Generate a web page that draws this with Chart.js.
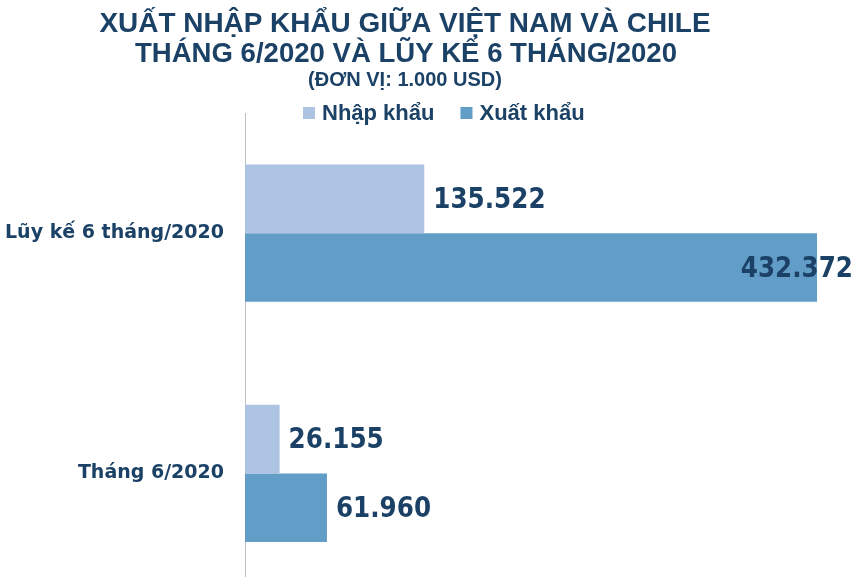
<!DOCTYPE html>
<html>
<head>
    <meta charset="utf-8">
    <script src="https://cdn.jsdelivr.net/npm/chart.js"></script>
    <style>
        html, body { margin: 0; padding: 0; background: #ffffff; overflow: hidden; height: 577px; }
        #wrap { width: 860px; height: 577px; overflow: hidden; }
        canvas { display: block; }
    </style>
</head>
<body>
    <div id="wrap">
        <canvas id="chart" width="860" height="626"></canvas>
    </div>
    <script>
        // du lieu doc tu hinh goc (don vi: 1.000 USD)
        const categories = ["Lũy kế 6 tháng/2020", "Tháng 6/2020"];
        const seriesNames = ["Nhập khẩu", "Xuất khẩu"];
        const nhapKhau = [135522, 26155];
        const xuatKhau = [432372, 61960];
        const titleLines = ["XUẤT NHẬP KHẨU GIỮA VIỆT NAM VÀ CHILE", "THÁNG 6/2020 VÀ LŨY KẾ 6 THÁNG/2020"];
        const unitLine = "(ĐƠN VỊ: 1.000 USD)";

        const TEXT = "#1b4266";
        const LIGHT = "#acc4e2";
        const DARK = "#629dc7";
        const X_MAX = 457300;

        function fmt(v) {
            return v.toLocaleString("de-DE");
        }

        // tieu de + chu giai ve tay cho dung vi tri
        const headerPlugin = {
            id: "header",
            afterDraw(chart) {
                const ctx = chart.ctx;
                ctx.save();
                ctx.fillStyle = TEXT;
                ctx.textAlign = "center";
                ctx.textBaseline = "alphabetic";
                ctx.font = "bold 28px 'Liberation Sans', Arial, sans-serif";
                ctx.fillText(titleLines[0], 405, 32, 611);
                ctx.fillText(titleLines[1], 406, 62, 542);
                ctx.font = "bold 20px 'Liberation Sans', Arial, sans-serif";
                ctx.fillText(unitLine, 405, 86, 206);

                // legend
                const colors = [LIGHT, DARK];
                ctx.textAlign = "left";
                ctx.font = "bold 22px 'Liberation Sans', Arial, sans-serif";
                let x = 303;
                for (let i = 0; i < seriesNames.length; i++) {
                    ctx.fillStyle = colors[i];
                    ctx.fillRect(x, 107, 12, 12);
                    x += 19;
                    ctx.fillStyle = TEXT;
                    ctx.fillText(seriesNames[i], x, 120);
                    x += ctx.measureText(seriesNames[i]).width + 26;
                }
                ctx.restore();
            }
        };

        // nhan gia tri o cuoi moi thanh
        const valueLabels = {
            id: "valueLabels",
            afterDatasetsDraw(chart) {
                const ctx = chart.ctx;
                ctx.save();
                ctx.fillStyle = TEXT;
                ctx.font = "bold 28px 'DejaVu Sans', sans-serif";
                ctx.textAlign = "left";
                ctx.textBaseline = "middle";
                chart.data.datasets.forEach((ds, di) => {
                    const meta = chart.getDatasetMeta(di);
                    meta.data.forEach((bar, i) => {
                        const txt = fmt(ds.data[i]);
                        const w = ctx.measureText(txt).width * 0.88;
                        let x = bar.x + 9;
                        if (x + w > 853) x = 853 - w;
                        ctx.fillText(txt, x, bar.y + 2, w);
                    });
                });
                ctx.restore();
            }
        };

        new Chart(document.getElementById("chart").getContext("2d"), {
            type: "bar",
            data: {
                labels: categories,
                datasets: [
                    {
                        label: seriesNames[0],
                        data: nhapKhau,
                        backgroundColor: LIGHT,
                        categoryPercentage: 0.571,
                        barPercentage: 1.0
                    },
                    {
                        label: seriesNames[1],
                        data: xuatKhau,
                        backgroundColor: DARK,
                        categoryPercentage: 0.571,
                        barPercentage: 1.0
                    }
                ]
            },
            options: {
                indexAxis: "y",
                responsive: false,
                animation: false,
                layout: {
                    // khung ve keo dai qua mep duoi (canvas cao hon trang, bi cat)
                    padding: { top: 113, bottom: 0, right: 10, left: 0 }
                },
                plugins: {
                    legend: { display: false },
                    title: { display: false },
                    tooltip: { enabled: false }
                },
                scales: {
                    x: {
                        display: false,
                        min: 0,
                        max: X_MAX
                    },
                    y: {
                        afterFit(scale) { scale.width = 245; },
                        grid: { display: false, drawTicks: false },
                        border: { display: true, color: "#bfbfbf", width: 1 },
                        ticks: {
                            color: TEXT,
                            padding: 21,
                            font: { family: "'DejaVu Sans', sans-serif", size: 19, weight: "bold" }
                        }
                    }
                }
            },
            plugins: [headerPlugin, valueLabels]
        });
    </script>
</body>
</html>
